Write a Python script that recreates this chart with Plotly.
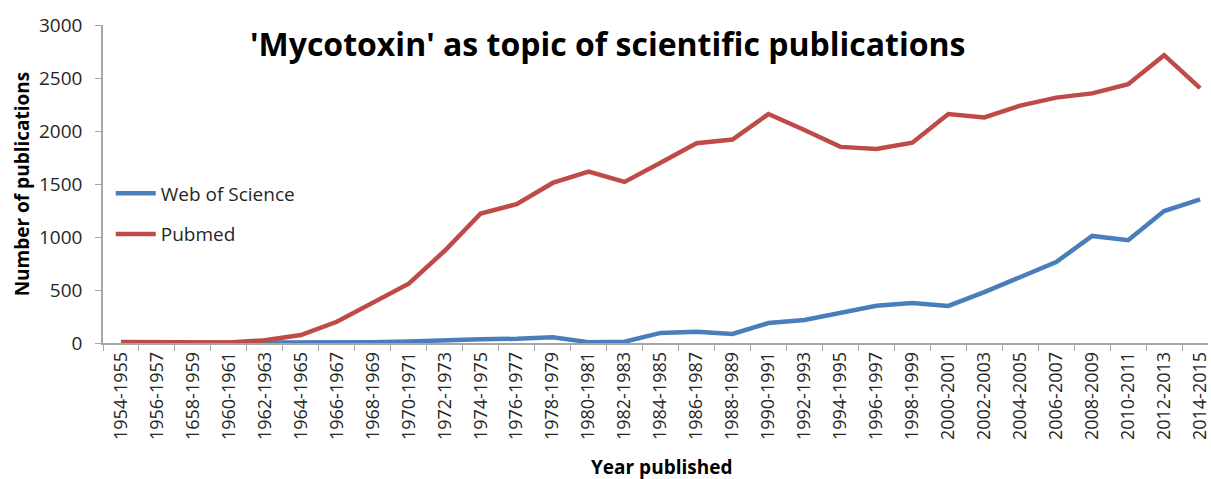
import plotly.graph_objects as go

# Two-year publication windows (labels as published, including the "1658-1959" entry)
periods = [
    "1954-1955", "1956-1957", "1658-1959", "1960-1961", "1962-1963", "1964-1965",
    "1966-1967", "1968-1969", "1970-1971", "1972-1973", "1974-1975", "1976-1977",
    "1978-1979", "1980-1981", "1982-1983", "1984-1985", "1986-1987", "1988-1989",
    "1990-1991", "1992-1993", "1994-1995", "1996-1997", "1998-1999", "2000-2001",
    "2002-2003", "2004-2005", "2006-2007", "2008-2009", "2010-2011", "2012-2013",
    "2014-2015",
]

web_of_science = [
    0, 0, 0, 0, 2, 3, 5, 8, 15, 30, 35, 40, 55, 8, 12, 95, 105, 85,
    188, 217, 288, 352, 377, 350, 480, 623, 764, 1010, 970, 1245, 1355,
]

pubmed = [
    10, 10, 12, 5, 25, 75, 200, 385, 560, 870, 1222, 1310, 1510, 1618, 1520,
    1700, 1885, 1920, 2160, 2010, 1850, 1830, 1890, 2160, 2128, 2240, 2315,
    2355, 2442, 2715, 2405,
]

y_ticks = [0, 500, 1000, 1500, 2000, 2500, 3000]

FONT = "Open Sans"
BLUE = "#4A7EBB"
RED = "#BE4B48"
AXIS_GREY = "#A6A6A6"
TEXT = "#262626"

fig = go.Figure()
fig.add_trace(go.Scatter(
    x=periods, y=web_of_science, mode="lines", name="Web of Science",
    line=dict(color=BLUE, width=4.5), legendgroup="wos",
))
fig.add_trace(go.Scatter(
    x=periods, y=pubmed, mode="lines", name="Pubmed",
    line=dict(color=RED, width=4.5), legendgroup="pubmed",
))

fig.update_layout(
    width=1211, height=479,
    margin=dict(l=103, r=0, t=25, b=136),
    paper_bgcolor="white", plot_bgcolor="white",
    font=dict(family=FONT, color=TEXT),
    showlegend=True,
    legend=dict(
        x=0.007, y=0.53, xanchor="left", yanchor="top",
        font=dict(size=19, color=TEXT, family=FONT),
        bgcolor="rgba(0,0,0,0)", tracegroupgap=13,
        itemwidth=40,
    ),
    xaxis=dict(
        type="category", range=[-0.5, 30.22],
        tickson="boundaries", ticks="outside", ticklen=6, tickcolor=AXIS_GREY,
        showline=True, linecolor=AXIS_GREY, linewidth=1.5,
        showgrid=False, zeroline=False,
        tickangle=-90, tickfont=dict(size=18, color=TEXT, family=FONT),
    ),
    yaxis=dict(
        range=[0, 3000], tickvals=y_ticks, ticks="outside", ticklen=6,
        tickcolor=AXIS_GREY, showline=True, linecolor=AXIS_GREY, linewidth=1.5,
        showgrid=False, zeroline=False, ticklabelstandoff=9,
        tickfont=dict(size=19, color=TEXT, family=FONT),
    ),
    annotations=[
        dict(text="<b>'Mycotoxin' as topic of scientific publications</b>",
             xref="paper", yref="paper", x=0.457, y=0.943,
             xanchor="center", yanchor="middle", showarrow=False,
             font=dict(size=32, color="black", family=FONT)),
        dict(text="<b>Number of publications</b>", textangle=-90,
             xref="paper", yref="paper", x=-0.073, y=0.5,
             xanchor="center", yanchor="middle", showarrow=False,
             font=dict(size=19, color="black", family=FONT)),
        dict(text="<b>Year published</b>",
             xref="paper", yref="paper", x=0.505, y=-0.39,
             xanchor="center", yanchor="middle", showarrow=False,
             font=dict(size=19, color="black", family=FONT)),
    ],
)

fig.write_html("out.html")
